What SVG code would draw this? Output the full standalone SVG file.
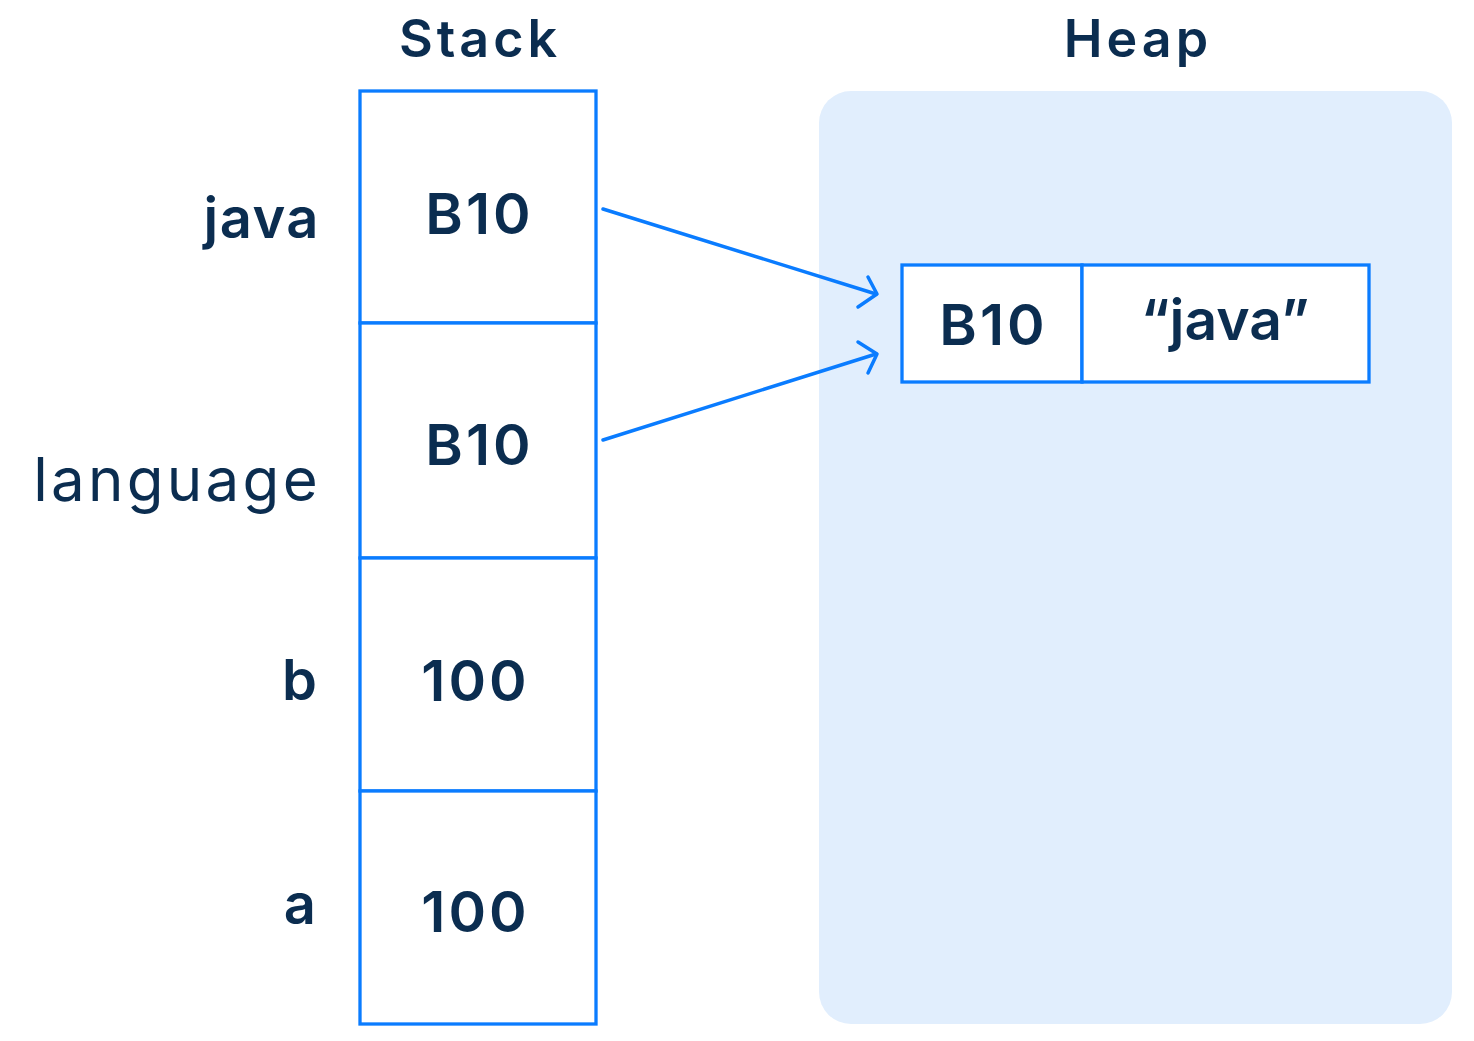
<svg xmlns="http://www.w3.org/2000/svg" width="1474" height="1041" viewBox="0 0 1474 1041">
<style>
.t{font-family:Inter,"Noto Sans","DejaVu Sans",sans-serif;fill:#0B2D50;}
.b{font-weight:600;}
.r{font-weight:400;}
.v{letter-spacing:3px;}
.h{letter-spacing:4px;}
.cell{fill:#FFFFFF;stroke:#0A7CFF;stroke-width:3.3;}
.conn{fill:none;stroke:#0A7CFF;stroke-width:3.5;stroke-linecap:round;stroke-linejoin:round;}
</style>
<rect width="1474" height="1041" fill="#FFFFFF"/>
<g id="heap-area">
<rect x="819" y="91" width="633" height="933" rx="32" fill="#E1EEFD"/>
<text class="t b h" x="1138" y="57" font-size="52" text-anchor="middle">Heap</text>
</g>
<g id="stack-title">
<text class="t b h" x="480" y="57" font-size="52" text-anchor="middle">Stack</text>
</g>
<g id="stack-java">
<rect class="cell" x="360" y="91" width="236" height="232"/>
<text class="t b v" x="479.5" y="234" font-size="57" text-anchor="middle">B10</text>
<text class="t b" x="320" y="238" font-size="56" text-anchor="end" letter-spacing="1.5">java</text>
</g>
<g id="stack-language">
<rect class="cell" x="360" y="323" width="236" height="235"/>
<text class="t b v" x="479.5" y="465" font-size="57" text-anchor="middle">B10</text>
<text class="t r" x="321" y="501" font-size="60" text-anchor="end" letter-spacing="3.3">language</text>
</g>
<g id="stack-b">
<rect class="cell" x="360" y="558" width="236" height="233"/>
<text class="t b v" x="475.5" y="701" font-size="57" text-anchor="middle">100</text>
<text class="t b" x="317" y="700" font-size="56" text-anchor="end">b</text>
</g>
<g id="stack-a">
<rect class="cell" x="360" y="791" width="236" height="233"/>
<text class="t b v" x="475.5" y="932" font-size="57" text-anchor="middle">100</text>
<text class="t b" x="316" y="924" font-size="56" text-anchor="end">a</text>
</g>
<g id="heap-object">
<rect class="cell" x="902" y="265" width="180" height="117"/>
<rect class="cell" x="1082" y="265" width="287" height="117"/>
<text class="t b v" x="993.5" y="345" font-size="57" text-anchor="middle">B10</text>
<text class="t b" x="1225" y="340" font-size="57" text-anchor="middle">“java”</text>
</g>
<g id="connectors">
<path class="conn" d="M603,209 L876,294"/>
<path class="conn" d="M868,277 L877,294 L858,307"/>
<path class="conn" d="M603,440 L876,354"/>
<path class="conn" d="M858,342 L877,354 L868,373"/>
</g>
</svg>
